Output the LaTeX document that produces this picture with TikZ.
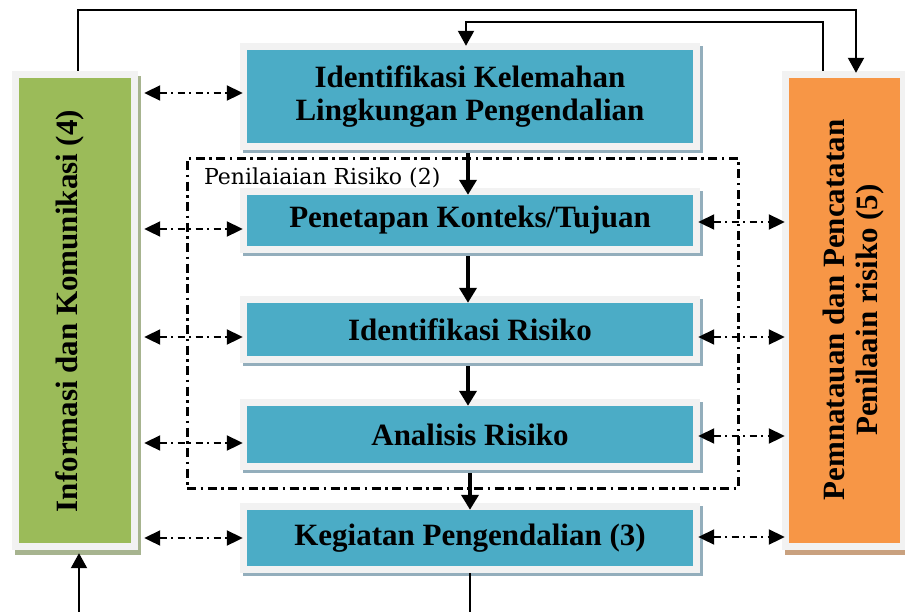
\documentclass[tikz,border=0pt]{standalone}
\usepackage{fontspec}
\setmainfont{Liberation Serif}
\newfontfamily\labelfont{DejaVu Serif}
\usetikzlibrary{arrows.meta,shadows}

\definecolor{boxblue}{HTML}{4BACC6}
\definecolor{boxgreen}{HTML}{9BBB59}
\definecolor{boxorange}{HTML}{F79646}
\definecolor{framegray}{HTML}{F2F2F2}
\definecolor{blueshade}{HTML}{93AEBC}
\definecolor{greenshade}{HTML}{A7B48F}
\definecolor{orangeshade}{HTML}{C9A17F}

% inner coloured panel of a framed block
\newcommand{\innerfill}[1]{\fill[#1] ([xshift=7pt,yshift=-7pt]path picture bounding box.north west) rectangle ([xshift=-7pt,yshift=7pt]path picture bounding box.south east);}

\tikzset{
  boxtext/.style={font=\fontsize{31}{33}\selectfont\bfseries, align=center},
  framebox/.style={rectangle, inner sep=0pt, fill=framegray},
  bluebox/.style={framebox, minimum width=460pt, boxtext,
    drop shadow={shadow xshift=3pt, shadow yshift=-3pt, fill=blueshade, opacity=1},
    path picture={\innerfill{boxblue}}},
  greenbox/.style={framebox, minimum width=126pt, minimum height=479pt,
    drop shadow={shadow xshift=3pt, shadow yshift=-5pt, fill=greenshade, opacity=1},
    path picture={\innerfill{boxgreen}}},
  orangebox/.style={framebox, minimum width=125pt, minimum height=479pt,
    drop shadow={shadow xshift=3pt, shadow yshift=-5pt, fill=orangeshade, opacity=1},
    path picture={\innerfill{boxorange}}},
  riskframe/.style={draw, line width=3pt, dash pattern=on 9pt off 4.5pt on 2.5pt off 4.5pt, inner sep=0pt},
  flow/.style={line width=4pt, -{Triangle[length=15pt,width=17pt]}, shorten <=3pt, shorten >=-7pt},
  loopline/.style={line width=2pt, -{Triangle[length=15pt,width=16pt]}},
  talk/.style={line width=2pt, dash pattern=on 7pt off 4.5pt on 2pt off 4.5pt,
    {Triangle[length=16pt,width=15pt]}-{Triangle[length=16pt,width=15pt]}},
  leftlink/.style={talk, shorten <=6pt, shorten >=-3pt},
  rightlink/.style={talk, shorten <=-2pt, shorten >=-3pt}
}

\begin{document}
\begin{tikzpicture}[x=1pt,y=-1pt]
  \useasboundingbox (0,0) rectangle (905,611);
  % side blocks
  \node[greenbox] (info) at (75,310.5) {};
  \node[orangebox] (pantau) at (844.5,310.5) {};
  \node[boxtext, rotate=90] (infotext) at (70,311) {Informasi dan Komunikasi (4)};
  \node[boxtext, rotate=90] (pantautext) at (854,310) {Pemnatauan dan Pencatatan\\Penilaain risiko (5)};
  % risk assessment group
  \node[riskframe, minimum width=551pt, minimum height=330pt] (nilai) at (462.5,323) {};
  \node[anchor=base west, font=\labelfont\fontsize{22}{24}\selectfont] (nilailabel)
    at ([xshift=15pt,yshift=-28pt]nilai.north west) {Penilaiaian Risiko (2)};
  % main column
  \node[bluebox, minimum height=107pt] (lemah) at (470,96.5) {Identifikasi Kelemahan\\Lingkungan Pengendalian};
  \node[bluebox, minimum height=65pt] (tujuan) at (470,220.5) {Penetapan Konteks/Tujuan};
  \node[bluebox, minimum height=67pt] (identi) at (470,329.5) {Identifikasi Risiko};
  \node[bluebox, minimum height=71pt] (analisis) at (470,434.5) {Analisis Risiko};
  \node[bluebox, minimum height=70pt] (kegiatan) at (470,538) {Kegiatan Pengendalian (3)};
  \coordinate (infoin) at (79,615);
  \coordinate (keluar) at (470,615);
  % flow down the column
  \draw[flow] ([xshift=-2pt]lemah.south) -- ([xshift=-2pt]tujuan.north);
  \draw[flow] ([xshift=-2pt]tujuan.south) -- ([xshift=-2pt]identi.north);
  \draw[flow] ([xshift=-2pt]identi.south) -- ([xshift=-2pt]analisis.north);
  \draw[flow] (analisis.south) -- (kegiatan.north);
  \draw[line width=2pt] (kegiatan.south) -- (keluar);
  % feedback loops
  \draw[loopline, shorten >=-2pt] ([xshift=3pt]info.north) -- ++(0,-61) -| ([xshift=11.5pt]pantau.north);
  \draw[loopline, shorten >=-3pt] ([xshift=-21.5pt]pantau.north) -- ++(0,-49) -| ([xshift=-4pt]lemah.north);
  \draw[loopline, shorten >=3pt] (infoin) -- ([xshift=4pt]info.south);
  % communication links
  \foreach \blk/\y in {lemah/93, tujuan/229, identi/337, analisis/443, kegiatan/538}
    \draw[leftlink] (info.east |- 0,\y) -- (\blk.west |- 0,\y);
  \foreach \blk/\y in {tujuan/222, identi/337, analisis/436, kegiatan/537}
    \draw[rightlink] (\blk.east |- 0,\y) -- (pantau.west |- 0,\y);
\end{tikzpicture}
\end{document}
